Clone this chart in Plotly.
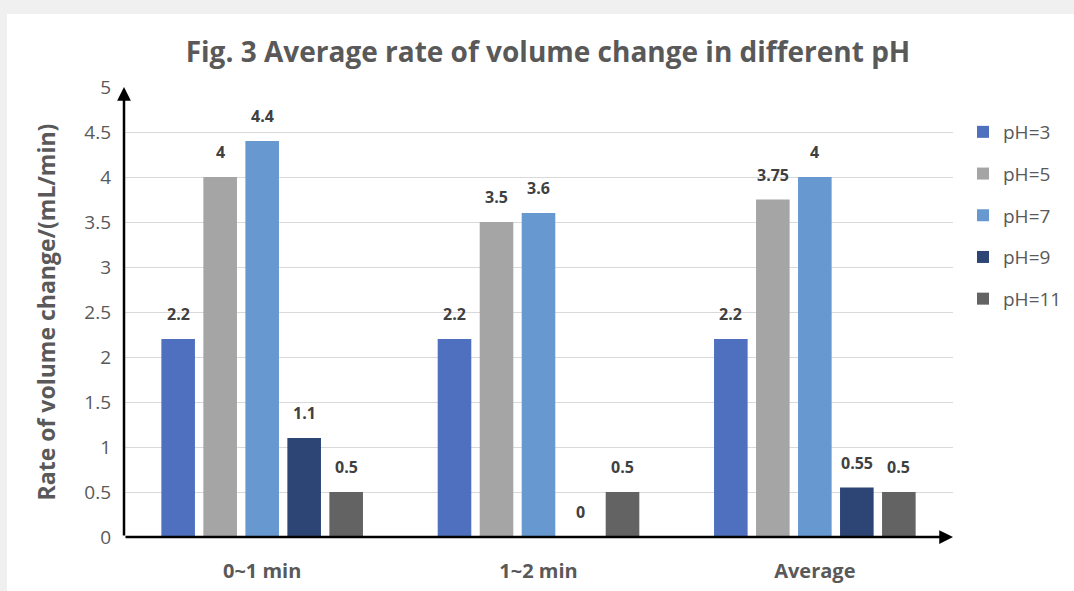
import plotly.graph_objects as go

categories = ["0~1 min", "1~2 min", "Average"]
series_names = ["pH=3", "pH=5", "pH=7", "pH=9", "pH=11"]
ph3 = [2.2, 2.2, 2.2]
ph5 = [4, 3.5, 3.75]
ph7 = [4.4, 3.6, 4]
ph9 = [1.1, 0, 0.55]
ph11 = [0.5, 0.5, 0.5]
series_values = [ph3, ph5, ph7, ph9, ph11]
colors = ["#4E70BE", "#A5A5A5", "#6799D0", "#2C4575", "#636363"]
y_ticks = [0, 0.5, 1, 1.5, 2, 2.5, 3, 3.5, 4, 4.5, 5]
y_tick_labels = ["0", "0.5", "1", "1.5", "2", "2.5", "3", "3.5", "4", "4.5", "5"]

W, H = 1074, 591
L, R, T, B = 124, 121, 87, 54
PW, PH = W - L - R, H - T - B
FONT = "'Open Sans', sans-serif"
GRAY = "#595959"

fig = go.Figure()
for i, (name, vals) in enumerate(zip(series_names, series_values)):
    fig.add_trace(go.Bar(
        x=categories, y=vals, name=name, marker_color=colors[i],
        marker_line_width=0, legendgroup=name,
    ))
    for c, v in zip(categories, vals):
        fig.add_annotation(
            x=c, y=v, xref="x", yref="y", text=f"{v:g}", showarrow=False,
            xshift=(i - 2) * 42, yshift=25,
            font=dict(family=FONT, size=16, color="#404040", weight="bold"),
        )

# white card over light gray page
fig.add_shape(type="rect", xref="paper", yref="paper",
              x0=(7 - L) / PW, x1=(W + 5 - L) / PW,
              y0=-(B + 5) / PH, y1=(H - B - 14) / PH,
              fillcolor="white", line_width=0, layer="below")

# axis arrows
fig.add_annotation(xref="paper", yref="paper", x=0, y=1.0, axref="pixel", ayref="pixel",
                   ax=0, ay=PH, text="", showarrow=True, arrowhead=2, arrowsize=1.1,
                   arrowwidth=2.5, arrowcolor="black")
fig.add_annotation(xref="paper", yref="paper", x=1.0, y=0, axref="pixel", ayref="pixel",
                   ax=-PW, ay=0, text="", showarrow=True, arrowhead=2, arrowsize=1.1,
                   arrowwidth=2.5, arrowcolor="black")

fig.update_layout(
    width=W, height=H,
    margin=dict(l=L, r=R, t=T, b=B, autoexpand=False),
    paper_bgcolor="#F0F0F0", plot_bgcolor="white",
    barmode="group", bargap=0.24, bargroupgap=0.2,
    title=dict(text="Fig. 3 Average rate of volume change in different pH",
               x=548 / W, xanchor="center", y=1 - 52 / H, yanchor="middle",
               font=dict(family=FONT, size=28, color=GRAY, weight="bold")),
    legend=dict(xref="container", yref="container",
                x=963 / W, xanchor="left", y=1 - 113 / H, yanchor="top",
                font=dict(family=FONT, size=19, color=GRAY),
                tracegroupgap=14, bgcolor="rgba(0,0,0,0)", itemwidth=30),
    showlegend=True,
)
fig.update_xaxes(
    type="category", range=[-0.5, 2.5], showgrid=False, showline=False, zeroline=False,
    ticks="", ticklabelstandoff=20,
    tickfont=dict(family=FONT, size=20, color=GRAY, weight="bold"),
)
fig.update_yaxes(
    range=[0, 5], tickvals=y_ticks, ticktext=y_tick_labels,
    showgrid=True, gridcolor="#D9D9D9", gridwidth=1.2,
    showline=False, zeroline=False, ticks="", ticklabelstandoff=12,
    tickfont=dict(family=FONT, size=19, color=GRAY),
    title=dict(text="Rate of volume change/(mL/min)", standoff=22,
               font=dict(family=FONT, size=23, color=GRAY, weight="bold")),
)

fig.write_html("out.html", config={"displayModeBar": False},
               post_script="document.body.style.margin='0';document.body.style.overflow='hidden';")
